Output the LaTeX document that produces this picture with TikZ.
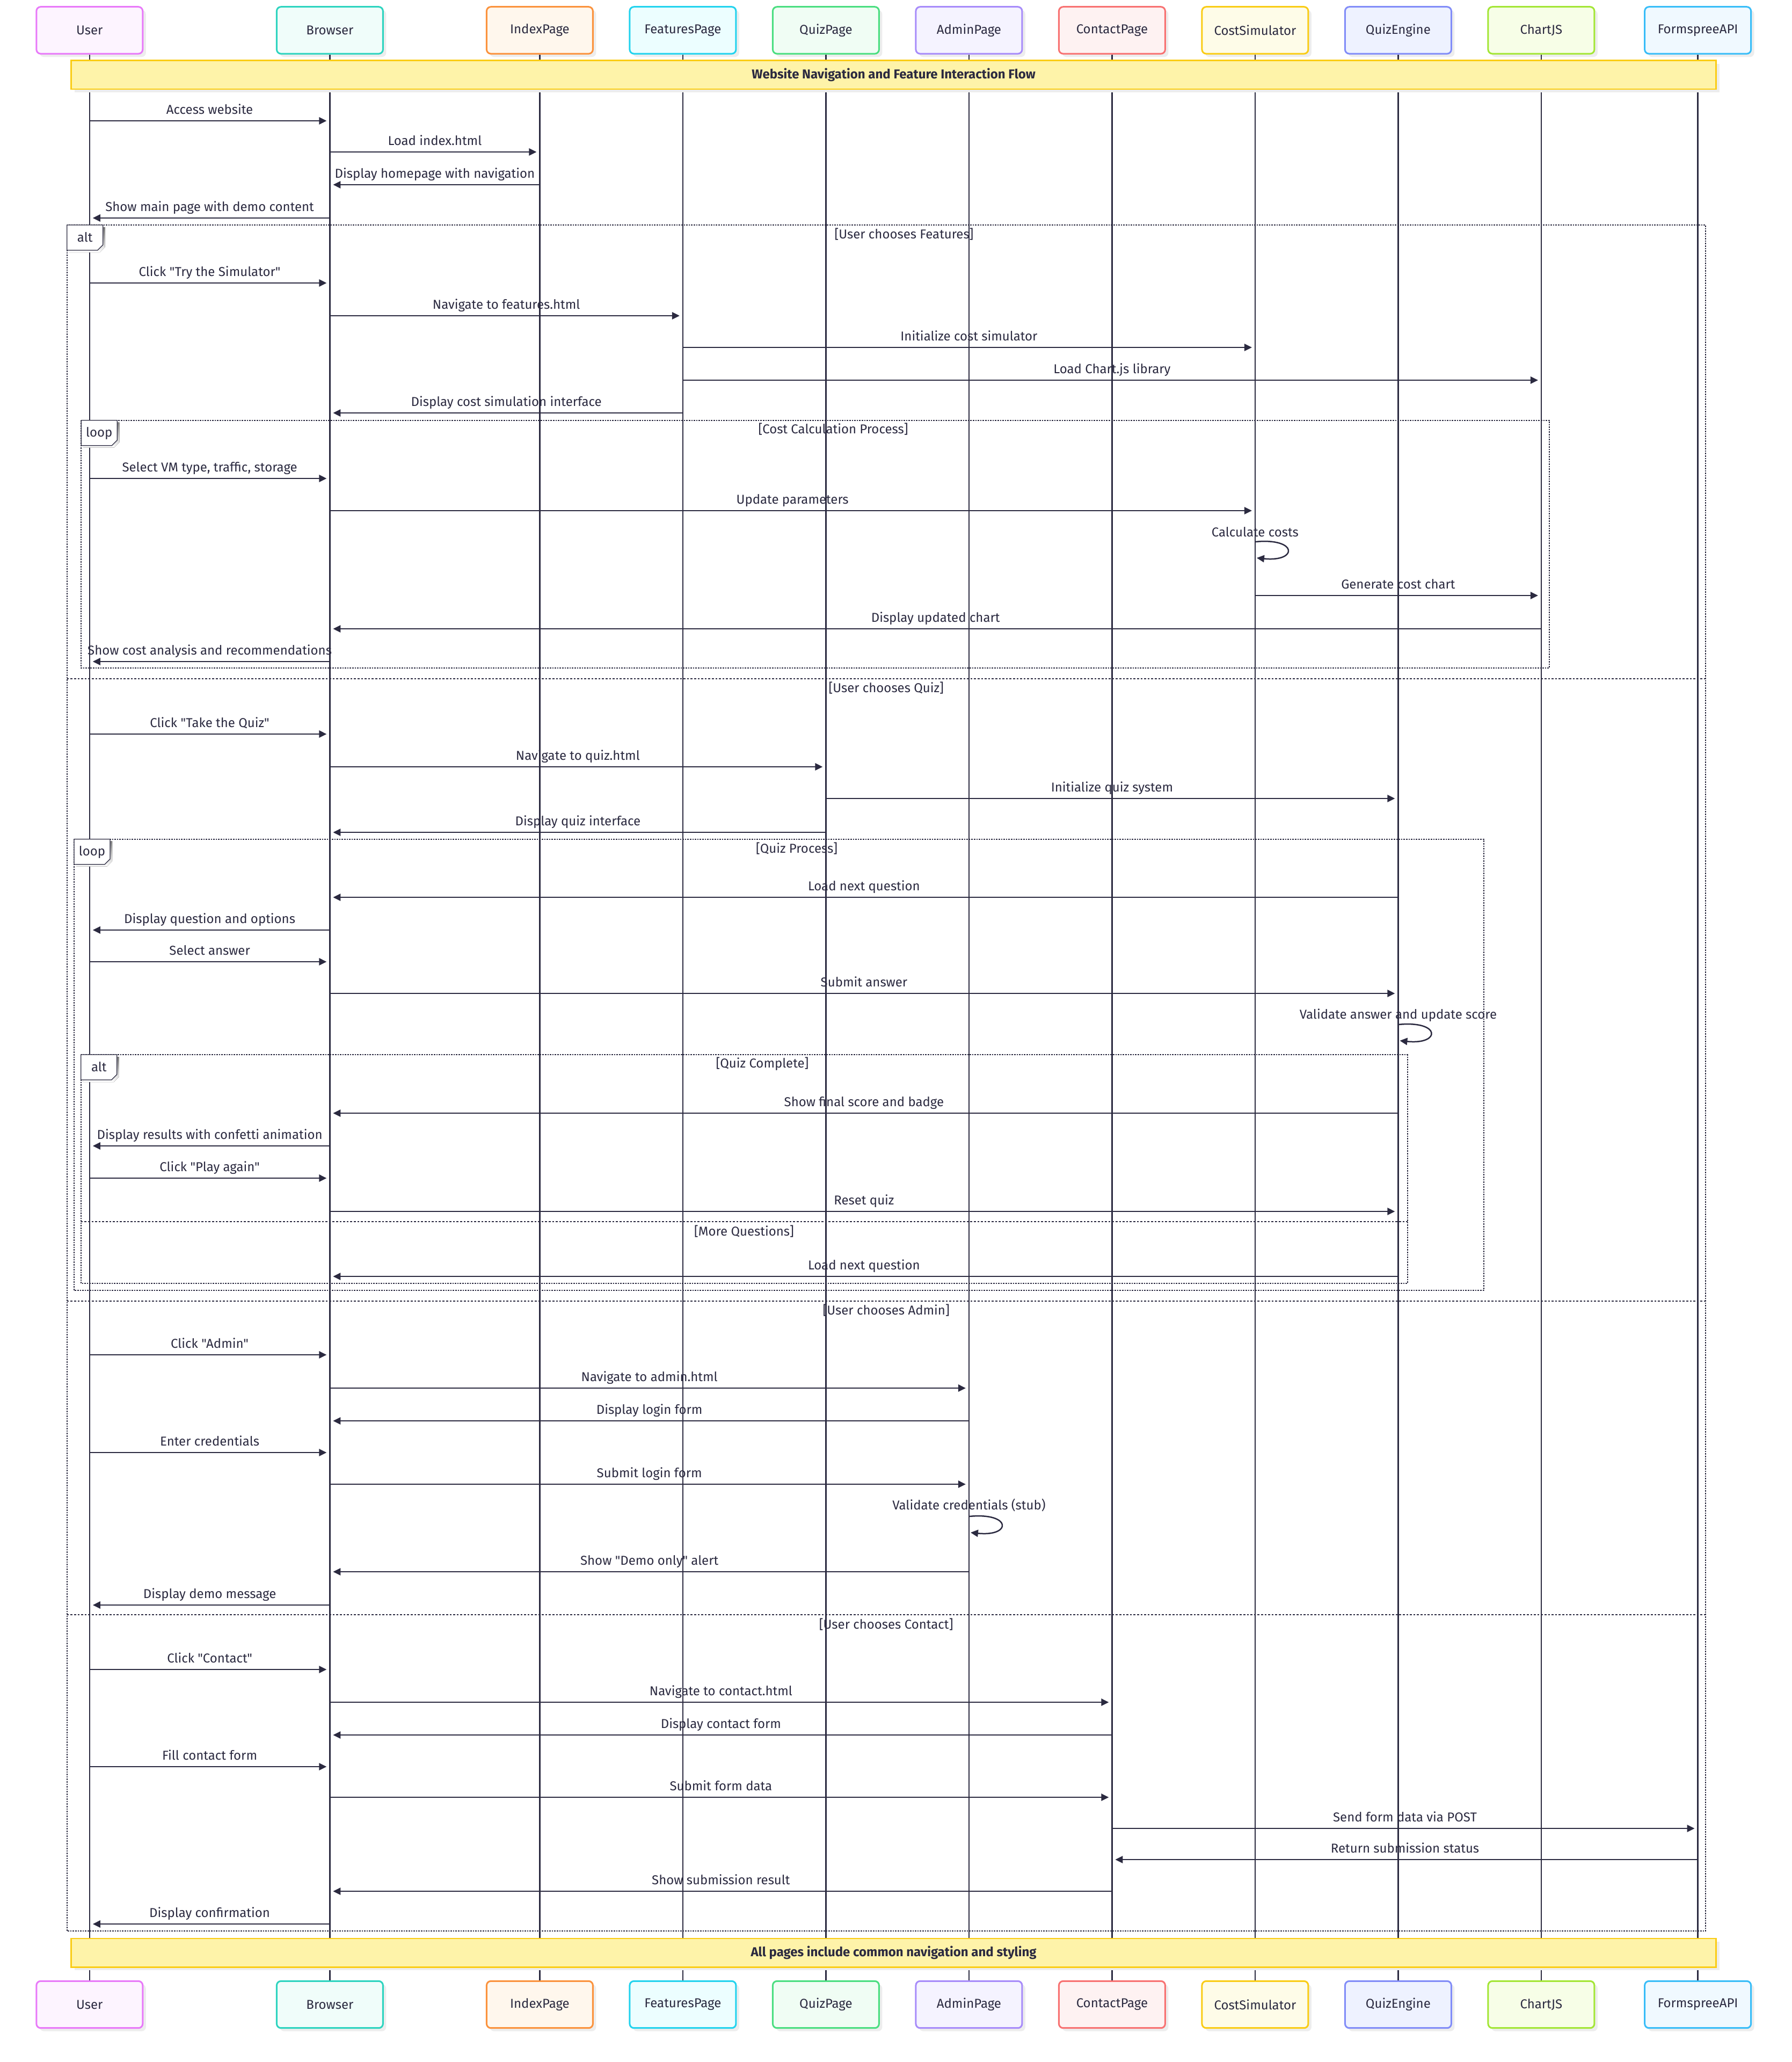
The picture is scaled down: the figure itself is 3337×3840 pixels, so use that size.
\documentclass[tikz,border=0pt]{standalone}
\usepackage{fontspec}
\setmainfont{Fira Sans}[Ligatures=TeXOff]
\usetikzlibrary{arrows.meta,calc,shadows}
\definecolor{ink}{HTML}{2B2A40}
\definecolor{noteF}{HTML}{FEF3A9}
\definecolor{noteB}{HTML}{FACC15}
\definecolor{shade}{HTML}{EDEDED}
\definecolor{cU}{HTML}{E879F9}\definecolor{fU}{HTML}{FDF4FF}
\definecolor{cB}{HTML}{2DD4BF}\definecolor{fB}{HTML}{F0FDFA}
\definecolor{cIP}{HTML}{FB923C}\definecolor{fIP}{HTML}{FFF7ED}
\definecolor{cFP}{HTML}{22D3EE}\definecolor{fFP}{HTML}{ECFEFF}
\definecolor{cQP}{HTML}{4ADE80}\definecolor{fQP}{HTML}{F0FDF4}
\definecolor{cAP}{HTML}{A78BFA}\definecolor{fAP}{HTML}{F5F3FF}
\definecolor{cCP}{HTML}{F87171}\definecolor{fCP}{HTML}{FEF2F2}
\definecolor{cCS}{HTML}{FACC15}\definecolor{fCS}{HTML}{FEFCE8}
\definecolor{cQE}{HTML}{818CF8}\definecolor{fQE}{HTML}{EEF2FF}
\definecolor{cCJ}{HTML}{A3E635}\definecolor{fCJ}{HTML}{F7FEE7}
\definecolor{cFA}{HTML}{38BDF8}\definecolor{fFA}{HTML}{F0F9FF}
\newcounter{mc}
\newcommand\msgfont{\fontsize{12}{14}\selectfont}
\newcommand\seqpart[5]{%
  \node[pbox, draw=#4, fill=#5] (t#1) at (#2,56.4) {#3};
  \node[pbox, draw=#4, fill=#5] (b#1) at (#2,3733) {#3};
}
\newcommand\seqmsg[4]{%
  \stepcounter{mc}%
  \draw[msgline, shorten >=3pt] (#1 |- 0,#3) -- (#2 |- 0,#3)
     node[msgtext, pos=0.5, anchor=base, yshift=6.25pt] (m\themc) {#4};
}
\newcommand\seqself[4]{%
  \stepcounter{mc}%
  \node[msgtext, anchor=base] (m\themc) at (#1 |- 0,#3) {#4};
  \draw[msgline] (#1 |- 0,#2) .. controls ($(#1 |- 0,#2)+(80,-8)$) and ($(#1 |- 0,#2)+(80,38)$) .. ($(#1 |- 0,#2)+(3,30)$);
}
\newcommand\seqflabel[4]{%
  \fill[shade] ($(#2,#3)+(4,4)$) -- ++(67,0) -- ++(0,37) -- ++(-10,10) -- ++(-57,0) -- cycle;
  \draw[flabel] (#2,#3) -- ++(67,0) -- ++(0,37) -- ++(-10,10) -- ++(-57,0) -- cycle;
  \node[msgtext, anchor=base] (#1) at (#2+33.5,#3+31) {#4};
}
\begin{document}
\begin{tikzpicture}[x=0.5pt,y=-0.5pt,
  pbox/.style={rounded corners=4pt, line width=1.5pt, minimum width=99pt, minimum height=43.7pt, inner sep=0pt, font=\msgfont, text=ink,
    drop shadow={shadow xshift=3pt, shadow yshift=-3pt, fill=shade, opacity=1}},
  lifeline/.style={draw=ink, line width=1.15pt},
  notebox/.style={fill=noteF, draw=noteB, line width=1.3pt, minimum width=1532pt, minimum height=26.7pt, inner sep=0pt, font=\msgfont\bfseries, text=ink,
    drop shadow={shadow xshift=3pt, shadow yshift=-3pt, fill=shade, opacity=1}},
  msgline/.style={draw=ink, line width=1.25pt, -{Triangle[length=7pt,width=6.6pt]}},
  msgtext/.style={font=\msgfont, text=ink, inner sep=0pt},
  frameline/.style={draw=ink, line width=1pt, dash pattern=on 1.3pt off 1pt},
  divline/.style={draw=ink, line width=1.1pt, dash pattern=on 1.8pt off 1.5pt},
  flabel/.style={draw=ink, line width=0.6pt, fill=white},
]
\fill[white] (0,0) rectangle (3337,3840);
\useasboundingbox (0,0) rectangle (3337,3840);

% participants
\seqpart{U}{166.8}{User}{cU}{fU}
\seqpart{B}{614.4}{Browser}{cB}{fB}
\seqpart{IP}{1005.4}{IndexPage}{cIP}{fIP}
\seqpart{FP}{1271.9}{FeaturesPage}{cFP}{fFP}
\seqpart{QP}{1538.4}{QuizPage}{cQP}{fQP}
\seqpart{AP}{1804.9}{AdminPage}{cAP}{fAP}
\seqpart{CP}{2071.4}{ContactPage}{cCP}{fCP}
\seqpart{CS}{2337.9}{CostSimulator}{cCS}{fCS}
\seqpart{QE}{2604.4}{QuizEngine}{cQE}{fQE}
\seqpart{CJ}{2870.9}{ChartJS}{cCJ}{fCJ}
\seqpart{FA}{3162.6}{FormspreeAPI}{cFA}{fFA}
\foreach \p in {U,B,IP,FP,QP,AP,CP,CS,QE,CJ,FA}
  \draw[lifeline] (t\p.south) -- (b\p.north);

% notes
\node[notebox] (title) at (1664.6,139.4) {Website Navigation and Feature Interaction Flow};
\node[notebox] (footer) at (1664.6,3636.7) {All pages include common navigation and styling};

% frames
\draw[frameline] (124.7,419) rectangle (3176.8,3596);
\draw[divline] (124.7,1264) -- (3176.8,1264);
\draw[divline] (124.7,2423) -- (3176.8,2423);
\draw[divline] (124.7,3007) -- (3176.8,3007);
\draw[frameline] (151.3,782.7) rectangle (2886,1244);
\draw[frameline] (138,1562.7) rectangle (2763.6,2403);
\draw[frameline] (150.8,1964) rectangle (2621.5,2390);
\draw[divline] (150.8,2275) -- (2621.5,2275);

\seqflabel{fa1}{124.7}{419}{alt}
\seqflabel{fl1}{151.3}{782.7}{loop}
\seqflabel{fl2}{138}{1562.7}{loop}
\seqflabel{fa2}{150.8}{1964}{alt}

\node[msgtext, anchor=base] (g1) at (1684,444) {[User chooses Features]};
\node[msgtext, anchor=base] (g2) at (1552,807) {[Cost Calculation Process]};
\node[msgtext, anchor=base] (g3) at (1650.7,1289) {[User chooses Quiz]};
\node[msgtext, anchor=base] (g4) at (1484,1588) {[Quiz Process]};
\node[msgtext, anchor=base] (g5) at (1420,1988) {[Quiz Complete]};
\node[msgtext, anchor=base] (g6) at (1386,2301) {[More Questions]};
\node[msgtext, anchor=base] (g7) at (1650.7,2448) {[User chooses Admin]};
\node[msgtext, anchor=base] (g8) at (1650.7,3033) {[User chooses Contact]};

% messages
\seqmsg{tU}{tB}{225}{Access website}
\seqmsg{tB}{tIP}{283}{Load index.html}
\seqmsg{tIP}{tB}{344}{Display homepage with navigation}
\seqmsg{tB}{tU}{406}{Show main page with demo content}
\seqmsg{tU}{tB}{527}{Click "Try the Simulator"}
\seqmsg{tB}{tFP}{588}{Navigate to features.html}
\seqmsg{tFP}{tCS}{647}{Initialize cost simulator}
\seqmsg{tFP}{tCJ}{708}{Load Chart.js library}
\seqmsg{tFP}{tB}{769}{Display cost simulation interface}
\seqmsg{tU}{tB}{891}{Select VM type, traffic, storage}
\seqmsg{tB}{tCS}{951}{Update parameters}
\seqself{tCS}{1009}{999}{Calculate costs}
\seqmsg{tCS}{tCJ}{1109}{Generate cost chart}
\seqmsg{tCJ}{tB}{1171}{Display updated chart}
\seqmsg{tB}{tU}{1232}{Show cost analysis and recommendations}
\seqmsg{tU}{tB}{1367}{Click "Take the Quiz"}
\seqmsg{tB}{tQP}{1428}{Navigate to quiz.html}
\seqmsg{tQP}{tQE}{1487}{Initialize quiz system}
\seqmsg{tQP}{tB}{1550}{Display quiz interface}
\seqmsg{tQE}{tB}{1671}{Load next question}
\seqmsg{tB}{tU}{1732}{Display question and options}
\seqmsg{tU}{tB}{1791}{Select answer}
\seqmsg{tB}{tQE}{1850}{Submit answer}
\seqself{tQE}{1908}{1897}{Validate answer and update score}
\seqmsg{tQE}{tB}{2073}{Show final score and badge}
\seqmsg{tB}{tU}{2134}{Display results with confetti animation}
\seqmsg{tU}{tB}{2194}{Click "Play again"}
\seqmsg{tB}{tQE}{2256}{Reset quiz}
\seqmsg{tQE}{tB}{2377}{Load next question}
\seqmsg{tU}{tB}{2523}{Click "Admin"}
\seqmsg{tB}{tAP}{2585}{Navigate to admin.html}
\seqmsg{tAP}{tB}{2646}{Display login form}
\seqmsg{tU}{tB}{2705}{Enter credentials}
\seqmsg{tB}{tAP}{2764}{Submit login form}
\seqself{tAP}{2824}{2811}{Validate credentials (stub)}
\seqmsg{tAP}{tB}{2927}{Show "Demo only" alert}
\seqmsg{tB}{tU}{2989}{Display demo message}
\seqmsg{tU}{tB}{3109}{Click "Contact"}
\seqmsg{tB}{tCP}{3170}{Navigate to contact.html}
\seqmsg{tCP}{tB}{3231}{Display contact form}
\seqmsg{tU}{tB}{3290}{Fill contact form}
\seqmsg{tB}{tCP}{3347}{Submit form data}
\seqmsg{tCP}{tFA}{3405}{Send form data via POST}
\seqmsg{tFA}{tCP}{3463}{Return submission status}
\seqmsg{tCP}{tB}{3522}{Show submission result}
\seqmsg{tB}{tU}{3583}{Display confirmation}
\end{tikzpicture}
\end{document}
